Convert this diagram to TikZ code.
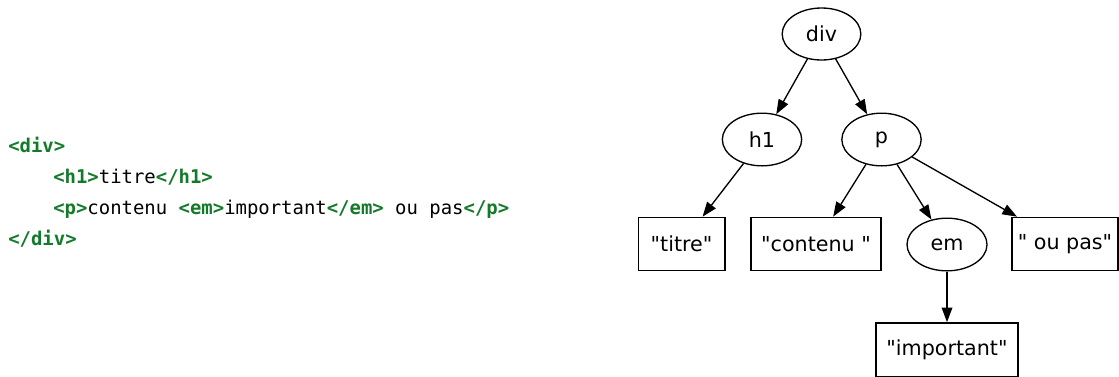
\documentclass[tikz,border=0pt]{standalone}
\usepackage{fontspec}
\setmainfont[Ligatures=TeXOff]{DejaVu Sans}
\newfontfamily\codefont{DejaVu Sans Mono}
\usetikzlibrary{shapes.geometric,arrows.meta}
\definecolor{taggreen}{HTML}{137A2A}
\newcommand\tg[1]{\textcolor{taggreen}{\bfseries #1}}
\begin{document}
\begin{tikzpicture}[x=0.75pt,y=-0.75pt,
  elnode/.style={draw,ellipse,line width=1pt,inner sep=0pt,font=\fontsize{15.5}{17}\selectfont},
  boxnode/.style={draw,rectangle,line width=1pt,inner sep=0pt,minimum height=40pt,font=\fontsize{15.5}{17}\selectfont},
  codeline/.style={anchor=base west,inner sep=0pt,font=\codefont\fontsize{14.2}{16}\selectfont},
  edge/.style={line width=1pt,-{Triangle[length=11pt,width=8pt]}}]
\useasboundingbox (0,0) rectangle (1119,376);
% code
\node[codeline] (c1) at (8,152) {\tg{<div>}};
\node[codeline] (c2) at (53,183) {\tg{<h1>}titre\tg{</h1>}};
\node[codeline] (c3) at (53,214) {\tg{<p>}contenu \tg{<em>}important\tg{</em>} ou pas\tg{</p>}};
\node[codeline] (c4) at (8,245) {\tg{</div>}};
% tree
\node[elnode,minimum width=59pt,minimum height=39pt] (div) at (821.5,34) {div};
\node[elnode,minimum width=59.5pt,minimum height=39.5pt] (h1) at (762,139.5) {h1};
\node[elnode,minimum width=59.5pt,minimum height=39.5pt] (p) at (881.5,139.5) {p};
\node[boxnode,minimum width=65pt] (titre) at (681.5,244) {"titre"};
\node[boxnode,minimum width=97.5pt] (contenu) at (816,244) {"contenu "};
\node[elnode,minimum width=60pt,minimum height=39.5pt] (em) at (947,244.5) {em};
\node[boxnode,minimum width=79.5pt] (oupas) at (1065,244) {" ou pas"};
\node[boxnode,minimum width=106.5pt] (important) at (947,349.5) {"important"};
\draw[edge] (div) -- (h1);
\draw[edge] (div) -- (p);
\draw[edge] (h1) -- (titre);
\draw[edge] (p) -- (contenu);
\draw[edge] (p) -- (em);
\draw[edge] (p) -- (oupas);
\draw[edge] (em) -- (important);
\end{tikzpicture}
\end{document}
